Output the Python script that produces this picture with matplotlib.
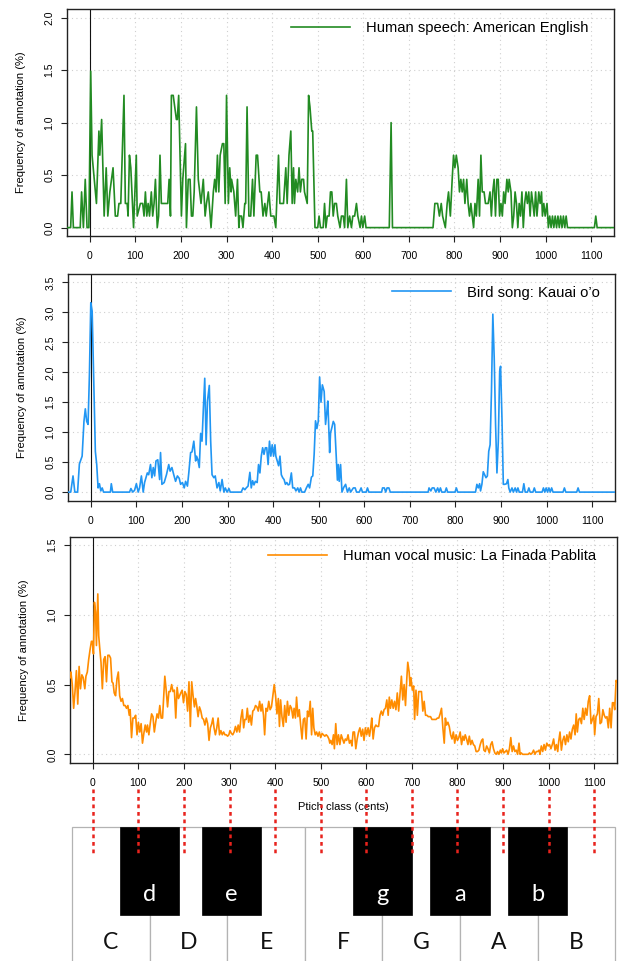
import matplotlib
matplotlib.use("Agg")
import matplotlib.pyplot as plt
from matplotlib.patches import Rectangle
from matplotlib.ticker import FormatStrFormatter
from matplotlib.transforms import blended_transform_factory

plt.rcParams['font.family'] = ['Liberation Sans', 'DejaVu Sans']

# ---------------- data (pitch class in cents, frequency in %) ----------------
speech_cents = [-50, -42, -39, -36, -21, -18, -14, -10, -6, -2, 2, 5, 14.6, 20, 22, 26, 31.5, 36, 39.5, 44,
                47.6, 51, 56, 61, 64, 68, 75, 78, 82, 84, 87, 90, 96, 102, 104, 111, 116, 119, 122, 125,
                128, 131, 135, 138, 141, 144, 148, 151, 154, 157, 171, 174, 177, 179, 183, 190, 192, 195, 201, 204,
                210, 212, 216, 220, 223, 226, 229, 234, 238, 244, 249, 253, 256, 260, 266, 271, 274, 277, 280, 283,
                286, 291, 294, 297, 300, 304, 307, 310, 311, 316, 320, 324, 327, 329, 333, 336, 340, 342, 345, 349,
                353, 357, 360, 365, 368, 373, 376, 380, 384, 387, 393, 397, 404, 408, 414, 417, 425, 430, 433, 437,
                441, 444, 447, 449, 452, 456, 459, 462, 465, 469, 471, 477, 480, 483, 487, 489, 494, 500, 503, 506,
                512, 515, 518, 521, 525, 528, 531, 534, 537, 541, 544, 549, 552, 556, 559, 563, 566, 570, 574, 577,
                581, 585, 588, 593, 596, 599, 603, 606, 657, 661, 664, 753, 757, 763, 767, 771, 774, 780, 784, 787,
                791, 795, 798, 801, 804, 808, 811, 814, 817, 820, 823, 827, 830, 833, 836, 839, 842, 845, 848, 852,
                855, 858, 861, 865, 868, 871, 874, 878, 881, 884, 887, 890, 893, 896, 899, 902, 905, 908, 911, 915,
                918, 920, 924, 927, 930, 933, 936, 939, 942, 945, 948, 951, 954, 957, 960, 963, 966, 969, 972, 975,
                978, 981, 985, 988, 991, 993, 996, 999, 1003, 1006, 1009, 1012, 1015, 1018, 1021, 1024, 1027, 1030, 1033, 1036,
                1039, 1042, 1045, 1048, 1107, 1110, 1113, 1150]
speech_freq = [0, 0, 0.34, 0, 0, 0.34, 0, 0.46, 0, 0, 1.49, 0.69, 0.23, 0.92, 0.69, 1.03, 0.11, 0.57, 0.11, 0.34,
               0.46, 0.57, 0.11, 0.11, 0.23, 0.23, 1.26, 0.23, 0.23, 0.11, 0.69, 0.57, 0, 0.69, 0.11, 0.23, 0.23, 0.11, 0.34, 0.11,
               0.23, 0.11, 0.34, 0.11, 0.23, 0.46, 0, 0.11, 0.69, 0.23, 0.23, 0.46, 0.11, 1.26, 1.26, 1.03, 1.03, 1.26, 0.11, 0.46,
               0.80, 0, 0.46, 0.46, 0.11, 0.11, 0.34, 1.15, 0.46, 0.23, 0.46, 0.11, 0.23, 0.34, 0, 0.34, 0.46, 0.34, 0.69, 0.34,
               0.69, 0.80, 0.80, 0.23, 1.26, 0.23, 0.57, 0.34, 0.46, 0.34, 0.11, 0.46, 0, 0.11, 0.11, 0, 0.23, 0.23, 1.15, 0.11,
               0.11, 0.46, 0.11, 0.69, 0.69, 0.34, 0.34, 0.11, 0.23, 0.11, 0.34, 0.11, 0.11, 0, 0.69, 0.23, 0.23, 0.57, 0.23, 0.69,
               0.92, 0.23, 0.57, 0.23, 0.46, 0.34, 0.57, 0.34, 0.46, 0.46, 0.34, 0.23, 1.26, 1.15, 0.92, 0.92, 0, 0, 0.11, 0,
               0, 0.23, 0, 0.11, 0.11, 0.34, 0.34, 0.11, 0.23, 0.23, 0.11, 0, 0.11, 0.11, 0, 0.46, 0, 0.11, 0, 0.11,
               0.11, 0.23, 0.11, 0, 0.11, 0, 0.11, 0, 0, 1.0, 0, 0, 0.23, 0.23, 0.11, 0.23, 0.11, 0, 0.23, 0.34,
               0.11, 0.46, 0.69, 0.57, 0.69, 0.57, 0.34, 0.46, 0.34, 0.46, 0.23, 0.46, 0.23, 0.11, 0.23, 0.11, 0, 0.23, 0.11, 0.46,
               0.11, 0.69, 0.34, 0.34, 0.23, 0.23, 0.23, 0.34, 0.11, 0.34, 0.46, 0.11, 0.46, 0.46, 0.11, 0.23, 0.11, 0.34, 0.23, 0.46,
               0.34, 0.46, 0.34, 0, 0.11, 0.34, 0.23, 0, 0.23, 0.11, 0.34, 0, 0.23, 0.34, 0.23, 0.34, 0.11, 0.34, 0.23, 0.11,
               0.34, 0.11, 0.34, 0.23, 0.34, 0.11, 0.23, 0.11, 0.23, 0, 0.11, 0, 0.11, 0, 0.11, 0, 0.11, 0, 0.11, 0,
               0.11, 0, 0.11, 0, 0, 0.11, 0, 0]

bird_cents = [-50, -44, -39, -35, -29, -25, -19, -15, -12, -9, -6, -3, 0, 3, 6.6, 10, 13, 16, 19, 22,
              25, 28, 43, 45, 48, 85, 88, 92, 96, 100, 104, 107, 111, 115, 118, 124, 127, 131, 134, 137,
              140, 143, 147, 151, 153, 156, 161, 166, 171, 174, 178, 182, 186, 190, 194, 197, 201, 205, 208, 212,
              215, 219, 222, 226, 230, 232, 235, 238, 241, 244, 247, 250, 253, 256, 260, 263, 266, 270, 273, 277,
              281, 284, 288, 292, 295, 299, 303, 306, 330, 334, 338, 341, 345, 349, 352, 355, 358, 361, 365, 368,
              371, 374, 377, 380, 383, 386, 389, 392, 395, 398, 401, 404, 406, 409, 412, 415, 418, 421, 424, 427,
              430, 433, 436, 440, 443, 447, 450, 454, 457, 460, 463, 469, 473, 477, 480, 484, 487, 490, 493, 496,
              499, 502, 505, 508, 512, 515, 518, 520, 524, 526, 529, 532, 535, 538, 541, 543, 545, 548, 551, 555,
              559, 563, 567, 570, 576, 580, 583, 589, 593, 596, 604, 607, 610, 638, 640, 644, 647, 650, 654, 657,
              740, 742, 746, 749, 753, 757, 761, 764, 767, 770, 777, 780, 783, 799, 802, 805, 844, 847, 850, 853,
              855, 858, 861, 864, 867, 870, 873, 876, 879, 882, 885, 888, 891, 894, 897, 899, 902, 905, 908, 912,
              915, 917, 920, 924, 927, 931, 934, 937, 940, 947, 950, 953, 958, 961, 964, 970, 973, 976, 990, 993,
              996, 999, 1002, 1005, 1008, 1011, 1014, 1036, 1039, 1042, 1066, 1069, 1072, 1150]
bird_freq = [0, 0, 0.27, 0, 0, 0.47, 0.6, 1.18, 1.39, 1.18, 1.13, 1.96, 3.16, 3.02, 1.8, 0.68, 0.46, 0.07, 0.14, 0.02,
             0.07, 0, 0, 0.14, 0, 0, 0.06, 0, 0.03, 0.14, 0, 0.07, 0.27, 0, 0.16, 0.32, 0.29, 0.46, 0.24, 0.41,
             0.27, 0.52, 0.54, 0.21, 0.66, 0.13, 0.16, 0.29, 0.46, 0.35, 0.41, 0.29, 0.18, 0.27, 0.23, 0.13, 0.16, 0.07, 0.18, 0.1,
             0.32, 0.66, 0.67, 0.85, 0.52, 0.6, 0.54, 0.41, 0.98, 0.85, 1.4, 1.9, 0.79, 1.52, 1.78, 0.85, 0.29, 0.24, 0.27, 0.07,
             0.16, 0.02, 0.21, 0, 0.07, 0, 0.06, 0, 0, 0.07, 0.04, 0.07, 0.1, 0.33, 0.07, 0.19, 0.12, 0.18, 0.16, 0.46,
             0.32, 0.6, 0.74, 0.63, 0.74, 0.74, 0.46, 0.85, 0.6, 0.79, 0.6, 0.79, 0.6, 0.52, 0.44, 0.6, 0.29, 0.24, 0.21, 0.13,
             0.16, 0.12, 0.13, 0.32, 0.07, 0.07, 0.02, 0.07, 0, 0.07, 0, 0, 0.07, 0.13, 0.07, 0.25, 0.27, 0.63, 1.19, 1.06,
             1.18, 1.92, 1.5, 1.79, 1.68, 1.13, 1.35, 1.52, 0.66, 0.99, 1.08, 1.18, 1.13, 0.68, 0.2, 0.46, 0.18, 0.46, 0, 0.08,
             0.13, 0, 0.07, 0, 0.07, 0.07, 0, 0, 0.07, 0, 0, 0.07, 0, 0, 0.07, 0.07, 0, 0.07, 0.07, 0,
             0, 0.07, 0.02, 0.07, 0.07, 0, 0.07, 0, 0.07, 0, 0, 0.07, 0, 0, 0.07, 0, 0, 0.13, 0.07, 0.14,
             0.02, 0.13, 0.34, 0.29, 0.24, 0.27, 0.68, 0.79, 1.68, 2.97, 2.24, 1.13, 0.32, 0.85, 2.02, 2.1, 1.24, 0.13, 0.13, 0.14,
             0.21, 0.07, 0, 0.07, 0, 0.07, 0, 0.07, 0, 0, 0.14, 0, 0, 0.07, 0, 0, 0.07, 0, 0, 0.07,
             0, 0.07, 0, 0.07, 0, 0.07, 0, 0, 0.07, 0, 0, 0.07, 0, 0]

music_cents = [-50, -48, -45, -42, -39, -36, -33, -30, -27, -24, -21, -17.5, -15, -12, -9, -6, -3, -1, 1.5, 3.6,
               6, 8, 11, 13, 15, 18, 21, 24, 27, 30, 33, 36, 39, 42, 44.5, 47, 50, 53, 56, 59,
               62, 65, 68, 71, 74, 77, 80, 82, 85, 88, 91, 94, 97, 100, 103, 106, 109, 112, 115, 118,
               120, 123, 126, 129, 132, 135, 138, 141, 144, 147, 150, 153, 155, 158, 161, 164, 167, 170, 173, 176,
               179, 182, 185, 188, 190.5, 193, 196, 199, 202, 205, 208, 211, 214, 217, 220, 223, 225.5, 228, 231, 234,
               237, 240, 243, 246, 249, 252, 255, 258, 261, 263.5, 266, 269, 272, 275, 278, 281, 284, 287, 290, 293,
               295.6, 298.5, 301, 304, 307, 310, 313, 316, 319, 322, 325, 328, 331, 333.6, 336.5, 339, 342, 345, 348, 351,
               354, 357, 360, 363, 366, 369, 371.5, 374.5, 377, 380, 383, 386, 389, 392, 395, 398, 401, 404, 407, 409.5,
               412, 415, 418, 421, 424, 427, 430, 433, 436, 439, 441.6, 444.5, 447, 450, 453, 456, 459, 462, 465, 468,
               471, 474, 477, 480, 482.5, 485, 488, 491, 494, 497, 500, 503, 506, 509, 512, 515, 518, 520, 522, 525,
               528, 530, 533, 536, 539, 542, 545, 548, 551, 554, 557, 560, 563, 566, 568.5, 571, 574, 577, 580, 583,
               586, 589, 592, 595, 598, 601, 604, 607, 610, 612, 615, 618, 621, 624, 627, 630, 633, 636, 639, 642,
               645, 648, 650.5, 653, 656, 659, 662, 665, 668, 671, 674, 677, 680, 683, 686, 689, 691, 694, 696, 698,
               701, 704, 706, 709, 712, 715, 718, 721, 724, 727, 730, 733, 736, 741, 744, 753, 756, 759, 762, 765,
               768, 771, 773.5, 776, 779, 782, 785, 788, 791, 794, 797, 800, 803, 806, 809, 812, 814.5, 817, 820, 823,
               826, 829, 832, 835, 838, 841, 844, 847, 850, 853, 855.5, 858, 861, 864, 867, 870, 873, 876, 879, 882,
               885, 888, 891, 894, 896.5, 899, 902, 905, 908, 911, 914, 917, 920, 923, 926, 929, 932, 935, 937.5, 940,
               943, 946, 949, 952, 955, 958, 961, 964, 967, 970, 973, 976, 979, 981, 984, 987, 990, 993, 996, 999,
               1002, 1005, 1008, 1011, 1014, 1017, 1020, 1022, 1025, 1028, 1031, 1034, 1037, 1040, 1043, 1046, 1049, 1052, 1055, 1058,
               1060.5, 1063, 1066, 1069, 1072, 1075, 1078, 1081, 1084, 1087, 1090, 1093, 1096, 1099, 1101, 1104, 1107, 1110, 1113, 1116,
               1119, 1122, 1125, 1128, 1131, 1134, 1137, 1140, 1142.5, 1145, 1148, 1150]
music_freq = [0.55, 0.59, 0.50, 0.33, 0.45, 0.60, 0.36, 0.63, 0.47, 0.57, 0.55, 0.47, 0.56, 0.59, 0.68, 0.75, 0.81, 0.81, 0.72, 1.09,
              1.02, 0.78, 1.15, 0.85, 0.77, 0.66, 0.47, 0.68, 0.70, 0.52, 0.71, 0.71, 0.69, 0.52, 0.51, 0.44, 0.42, 0.54, 0.59, 0.42,
              0.38, 0.40, 0.35, 0.35, 0.33, 0.35, 0.28, 0.32, 0.12, 0.26, 0.26, 0.28, 0.14, 0.23, 0.16, 0.22, 0.08, 0.15, 0.21, 0.16,
              0.21, 0.14, 0.22, 0.29, 0.27, 0.16, 0.23, 0.29, 0.26, 0.35, 0.26, 0.26, 0.38, 0.56, 0.46, 0.34, 0.45, 0.45, 0.50, 0.45,
              0.46, 0.26, 0.48, 0.40, 0.42, 0.44, 0.46, 0.37, 0.45, 0.43, 0.31, 0.52, 0.20, 0.52, 0.42, 0.34, 0.40, 0.35, 0.27, 0.34,
              0.31, 0.26, 0.25, 0.21, 0.26, 0.22, 0.10, 0.19, 0.22, 0.26, 0.19, 0.14, 0.19, 0.26, 0.14, 0.17, 0.14, 0.16, 0.14, 0.14,
              0.13, 0.14, 0.17, 0.15, 0.14, 0.16, 0.20, 0.16, 0.21, 0.16, 0.26, 0.32, 0.19, 0.25, 0.25, 0.33, 0.23, 0.28, 0.21, 0.31,
              0.32, 0.35, 0.34, 0.31, 0.38, 0.31, 0.36, 0.28, 0.14, 0.33, 0.31, 0.38, 0.32, 0.34, 0.42, 0.50, 0.42, 0.29, 0.40, 0.20,
              0.39, 0.27, 0.20, 0.35, 0.23, 0.38, 0.28, 0.35, 0.33, 0.26, 0.33, 0.26, 0.41, 0.27, 0.32, 0.21, 0.11, 0.25, 0.26, 0.11,
              0.31, 0.27, 0.38, 0.14, 0.33, 0.19, 0.14, 0.16, 0.13, 0.16, 0.12, 0.15, 0.14, 0.13, 0.14, 0.13, 0.11, 0.08, 0.10, 0.07,
              0.14, 0.04, 0.22, 0.07, 0.14, 0.07, 0.14, 0.11, 0.08, 0.11, 0.10, 0.14, 0.08, 0.10, 0.06, 0.16, 0.16, 0.04, 0.11, 0.16,
              0.19, 0.13, 0.18, 0.10, 0.19, 0.14, 0.19, 0.13, 0.20, 0.26, 0.11, 0.19, 0.21, 0.20, 0.20, 0.28, 0.31, 0.28, 0.32, 0.33,
              0.39, 0.28, 0.41, 0.33, 0.39, 0.33, 0.38, 0.32, 0.44, 0.31, 0.44, 0.56, 0.39, 0.50, 0.35, 0.55, 0.66, 0.59, 0.49, 0.55,
              0.46, 0.49, 0.25, 0.46, 0.28, 0.45, 0.45, 0.45, 0.31, 0.38, 0.28, 0.28, 0.27, 0.27, 0.25, 0.25, 0.26, 0.26, 0.29, 0.33,
              0.19, 0.08, 0.26, 0.21, 0.23, 0.20, 0.14, 0.11, 0.16, 0.08, 0.14, 0.10, 0.12, 0.16, 0.07, 0.13, 0.10, 0.14, 0.11, 0.07,
              0.13, 0.07, 0.10, 0.07, 0.06, 0.02, 0.02, 0.03, 0.07, 0.10, 0.11, 0.03, 0.02, 0.06, 0.04, 0.01, 0.07, 0.09, 0.04, 0.01,
              0.00, 0.02, 0.00, 0.03, 0.01, 0.04, 0.01, 0.02, 0.03, 0.00, 0.04, 0.12, 0.02, 0.06, 0.02, 0.03, 0.00, 0.08, 0.00, 0.01,
              0.00, 0.00, 0.00, 0.00, 0.00, 0.01, 0.00, 0.01, 0.03, 0.00, 0.02, 0.02, 0.03, 0.00, 0.06, 0.02, 0.07, 0.03, 0.08, 0.06,
              0.07, 0.04, 0.07, 0.11, 0.03, 0.07, 0.02, 0.09, 0.16, 0.03, 0.10, 0.13, 0.07, 0.14, 0.09, 0.16, 0.11, 0.18, 0.21, 0.14,
              0.29, 0.16, 0.25, 0.26, 0.22, 0.33, 0.25, 0.33, 0.28, 0.38, 0.42, 0.22, 0.25, 0.28, 0.14, 0.27, 0.29, 0.40, 0.22, 0.23,
              0.32, 0.28, 0.26, 0.27, 0.19, 0.33, 0.19, 0.37, 0.37, 0.32, 0.53, 0.52]

series_labels = ["Human speech: American English", "Bird song: Kauai o\u2019o",
                 "Human vocal music: La Finada Pablita"]
series_colors = ["#228B22", "#2196F3", "#FF8C00"]
y_maxima = [2.0, 3.5, 1.5]
x_ticks = list(range(0, 1101, 100))
x_label = "Ptich class (cents)"
y_label = "Frequency of annotation (%)"

white_keys = ["C", "D", "E", "F", "G", "A", "B"]
black_keys = ["d", "e", "g", "a", "b"]
black_key_boundary = [1, 2, 4, 5, 6]      # white-key boundary each black key sits on

# ---------------- layout (pixels) ----------------
W, H = 620, 961
fig = plt.figure(figsize=(W / 100, H / 100), dpi=100)


def px_axes(left, top, right, bottom):
    return fig.add_axes([left / W, 1 - bottom / H, (right - left) / W, (bottom - top) / H])


panel_boxes = [(67, 9.3, 614, 236), (68, 274, 615, 500.5), (70, 536.7, 617, 762.7)]
legend_anchor = [(0.953, 0.949), (0.972, 0.949), (0.961, 0.944)]
series = [(speech_cents, speech_freq), (bird_cents, bird_freq), (music_cents, music_freq)]

axes = []
for i, (box, (cx, cy)) in enumerate(zip(panel_boxes, series)):
    ax = px_axes(*box)
    ymax = y_maxima[i]
    ax.set_xlim(-50, 1150)
    ax.set_ylim(-0.04 * ymax, ymax * 1.04)
    ax.set_xticks(x_ticks)
    yt = [k * 0.5 for k in range(int(round(ymax / 0.5)) + 1)]
    ax.set_yticks(yt)
    ax.yaxis.set_major_formatter(FormatStrFormatter('%.1f'))
    ax.grid(True, color='#cfcfcf', linestyle=(0, (1, 3)), linewidth=0.8)
    ax.set_axisbelow(True)
    ax.axvline(0, color='#111111', lw=0.8, zorder=2)
    ax.plot(cx, cy, color=series_colors[i], lw=1.2, label=series_labels[i], zorder=3)
    ax.tick_params(direction='out', length=4, width=0.8, labelsize=7.5, color='#222222')
    ax.tick_params(axis='x', pad=7)
    ax.tick_params(axis='y', pad=5)
    for lab in ax.get_yticklabels():
        lab.set_rotation(90)
        lab.set_va('center')
    for s in ax.spines.values():
        s.set_color('#222222')
        s.set_linewidth(1.0)
    ax.set_ylabel(y_label, fontsize=8, labelpad=13)
    ax.legend(loc='upper right', bbox_to_anchor=legend_anchor[i], frameon=False,
              fontsize=10.6, handlelength=4.0, handletextpad=1.05, borderpad=0, borderaxespad=0)
    axes.append(ax)

axes[2].set_xlabel(x_label, fontsize=8, labelpad=10)

# ---------------- piano keyboard ----------------
kb = fig.add_axes([0, 0, 1, 1])
kb.set_xlim(0, W)
kb.set_ylim(H, 0)
kb.axis('off')

KB_LEFT, KEY_W, KB_TOP, BLACK_BOTTOM, BLACK_W = 72, 77.6, 827, 915, 59.5
black_shift = [0, 4.5, 0, 0, 0]

for i, name in enumerate(white_keys):
    x0 = KB_LEFT + i * KEY_W
    kb.add_patch(Rectangle((x0, KB_TOP), KEY_W, H + 10 - KB_TOP, facecolor='white',
                           edgecolor='#b3b3b3', lw=0.9, zorder=1))
    kb.text(x0 + KEY_W / 2, 949, name, ha='center', va='baseline', fontsize=16.5,
            family='Lato', color='#111111', zorder=4)

for j, name in enumerate(black_keys):
    xc = KB_LEFT + black_key_boundary[j] * KEY_W + black_shift[j]
    kb.add_patch(Rectangle((xc - BLACK_W / 2, KB_TOP), BLACK_W, BLACK_BOTTOM - KB_TOP,
                           facecolor='black', edgecolor='black', lw=0.5, zorder=2))
    kb.text(xc, 901, name, ha='center', va='baseline', fontsize=17, family='Lato',
            color='white', zorder=4)

# red dotted guides at each pitch-class tick of the bottom panel
blend = blended_transform_factory(axes[2].transData, kb.transData)
kb.vlines(x_ticks, 789, 854, transform=blend, colors='#e8231d', lw=1.8,
          linestyles=[(0, (1.5, 1.5))], zorder=5)

fig.savefig("out.png", dpi=100)
